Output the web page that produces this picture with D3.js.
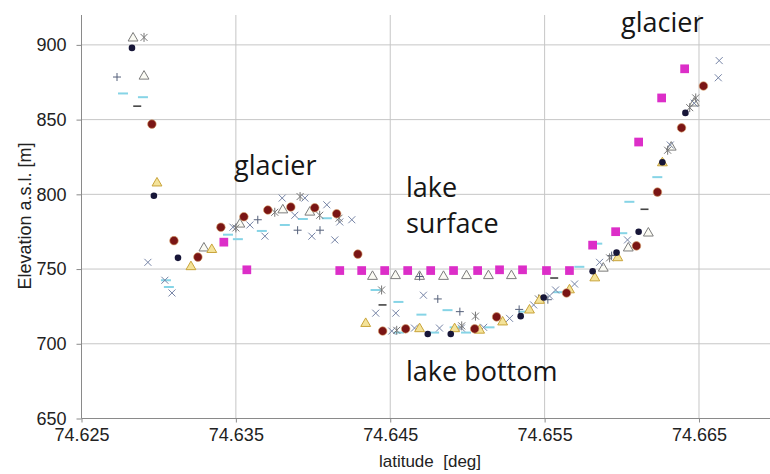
<!DOCTYPE html>
<html>
<head>
<meta charset="utf-8">
<script src="https://cdn.jsdelivr.net/npm/d3@7"></script>
<style>
body { margin: 0; background: #fff; }
svg text { font-family: "Liberation Sans", Arial, sans-serif; fill: #222; }
.note { font-family: "Open Sans", "Noto Sans", sans-serif; font-size: 27px; fill: #161616; }
</style>
</head>
<body>
<div id="chart"></div>
<script>
// tick values
var xTicks = [74.625, 74.635, 74.645, 74.655, 74.665];
var yTicks = [650, 700, 750, 800, 850, 900];

// magenta squares
var squareLat  = [74.63422, 74.63571, 74.64173, 74.64315, 74.64464, 74.64613, 74.64762, 74.64910, 74.65066, 74.65208, 74.65357, 74.65512, 74.65661, 74.65811, 74.65960, 74.66109, 74.66258, 74.66407];
var squareElev = [768, 749.5, 749, 749, 749, 749, 749, 749, 749, 749.5, 749.5, 749, 749, 766, 775, 835, 864.5, 884];

// maroon circles
var redLat  = [74.62956, 74.63099, 74.63254, 74.63403, 74.63552, 74.63707, 74.63856, 74.64011, 74.64153, 74.64290, 74.64451, 74.64600, 74.65047, 74.65189, 74.65642, 74.66095, 74.66231, 74.66387, 74.66529];
var redElev = [847, 769, 758, 778, 785, 789.5, 791.5, 791, 787, 760, 708.5, 710, 710, 718, 734, 765.5, 801.5, 844.5, 872.5];

// dark navy circles
var navyLat  = [74.62827, 74.62969, 74.63125, 74.64743, 74.64892, 74.65345, 74.65494, 74.65811, 74.65966, 74.66109, 74.66263, 74.66412];
var navyElev = [898, 799, 757.5, 706.5, 706.5, 718.5, 731, 748.5, 761, 775, 821.5, 854.5];

// open grey triangles
var triLat  = [74.62834, 74.62905, 74.63293, 74.63526, 74.63804, 74.63979, 74.64385, 74.64534, 74.64690, 74.64845, 74.64994, 74.65136, 74.65285, 74.65880, 74.66042, 74.66172, 74.66320, 74.66469];
var triElev = [904.5, 879, 764, 780, 789.5, 788, 745, 745.5, 745, 745, 745.5, 745.5, 745.5, 750.5, 764, 774, 831.5, 861];

// yellow triangles
var yelLat  = [74.62989, 74.63209, 74.63344, 74.64341, 74.64690, 74.64917, 74.65079, 74.65228, 74.65402, 74.65467, 74.65661, 74.65825, 74.65974, 74.66263];
var yelElev = [807.5, 751.5, 763, 713.5, 710, 710, 709, 714.5, 722.5, 729, 736, 744, 757.5, 821];

// light blue dashes
var dashLat  = [74.62769, 74.62898, 74.63047, 74.63066, 74.63449, 74.63513, 74.63668, 74.63817, 74.63934, 74.64089, 74.64405, 74.64553, 74.64557, 74.64702, 74.64784, 74.64871, 74.64917, 74.64991, 74.65143, 74.65362, 74.65589, 74.65725, 74.65841, 74.66003, 74.66049, 74.66230];
var dashElev = [867.5, 865, 742.5, 738, 773, 770, 775.5, 779.5, 783.5, 784, 736, 728, 707.5, 719.5, 707.5, 722.5, 711, 707.5, 711, 721.5, 734.5, 751.5, 767, 774, 795, 811.5];

// dark dashes
var ddashLat  = [74.62861, 74.64450, 74.65562, 74.66147];
var ddashElev = [859, 726, 744, 790];

// crosses
var xLat  = [74.62930, 74.63040, 74.63086, 74.63481, 74.63591, 74.63688, 74.63800, 74.63882, 74.63947, 74.63992, 74.64089, 74.64141, 74.64173, 74.64251, 74.64406, 74.64536, 74.64510, 74.64715, 74.64657, 74.64819, 74.64961, 74.65105, 74.65273, 74.65429, 74.65532, 74.65571, 74.65694, 74.65856, 74.66037, 74.66314, 74.66469, 74.66631, 74.66625];
var xElev = [754.5, 742.5, 734, 778, 779.5, 772, 797.5, 786, 797.5, 772, 793, 769.5, 781.5, 783, 720.5, 720.5, 708.5, 732.5, 710.5, 710.5, 710.5, 711, 717, 726, 732, 736, 740, 754.5, 769.5, 833, 861, 889.5, 878];

// plus signs
var plusLat  = [74.62730, 74.63642, 74.63900, 74.64045, 74.64690, 74.64808, 74.64951, 74.65335, 74.65521, 74.65934];
var plusElev = [878.5, 783, 776, 776, 745, 730, 721.5, 723, 729.5, 759];

// asterisks
var starLat  = [74.62905, 74.63500, 74.63752, 74.63916, 74.64043, 74.64168, 74.64444, 74.64542, 74.64963, 74.65052, 74.65460, 74.65921, 74.66297, 74.66440, 74.66479];
var starElev = [905, 777.5, 788, 798.5, 786, 784, 736, 709, 712, 718.5, 730, 757.5, 829.5, 858, 864.5];

var width = 770, height = 474;
var svg = d3.select("#chart").append("svg")
    .attr("width", width)
    .attr("height", height);

var x = d3.scaleLinear().domain([74.625, 74.6696]).range([81.5, 770]);
var y = d3.scaleLinear().domain([650, 920]).range([418.5, 15]);

// grid
svg.append("g").selectAll("line")
    .data(yTicks.slice(1))
    .enter().append("line")
    .attr("x1", x(74.625)).attr("x2", width)
    .attr("y1", function(d) { return y(d); })
    .attr("y2", function(d) { return y(d); })
    .style("stroke", "#c6c6c6");

svg.append("g").selectAll("line")
    .data(xTicks.slice(1))
    .enter().append("line")
    .attr("y1", y(650)).attr("y2", y(920))
    .attr("x1", function(d) { return x(d); })
    .attr("x2", function(d) { return x(d); })
    .style("stroke", "#c6c6c6");

// axes
var yAxis = svg.append("g")
    .attr("transform", "translate(" + x(74.625) + ",0)")
    .call(d3.axisLeft(y).tickValues(yTicks).tickSize(5).tickPadding(10).tickFormat(d3.format("d")));
yAxis.select(".domain").attr("d", "M0," + y(920) + "V" + y(650)).style("stroke", "#8a8a8a");

var xAxis = svg.append("g")
    .attr("transform", "translate(0," + y(650) + ")")
    .call(d3.axisBottom(x).tickValues(xTicks).tickSize(4).tickPadding(6).tickFormat(d3.format(".3f")));
xAxis.select(".domain").attr("d", "M" + x(74.625) + ",0H" + width).style("stroke", "#8a8a8a");

svg.selectAll(".tick line").style("stroke", "#8a8a8a");
svg.selectAll(".tick text").style("font-size", "18px").style("font-family", "'Liberation Sans', Arial, sans-serif").style("fill", "#222");

svg.append("text")
    .attr("x", 430).attr("y", 467)
    .attr("text-anchor", "middle")
    .attr("xml:space", "preserve")
    .style("font-size", "17px")
    .text("latitude  [deg]");

svg.append("text")
    .attr("transform", "translate(31,216) rotate(-90)")
    .attr("text-anchor", "middle")
    .style("font-size", "18px")
    .text("Elevation a.s.l. [m]");

// marker shapes
function pairs(lat, elev) {
    return lat.map(function(d, i) { return [d, elev[i]]; });
}

function drawPath(data, pathStr, style) {
    var p = svg.append("g").selectAll("path")
        .data(data)
        .enter().append("path")
        .attr("transform", function(d) { return "translate(" + x(d[0]) + "," + y(d[1]) + ")"; })
        .attr("d", pathStr);
    for (var k in style) p.style(k, style[k]);
    return p;
}

var triPath = d3.symbol().type(d3.symbolTriangle).size(42)();
drawPath(pairs(triLat, triElev), triPath, {"fill": "#fbfbf4", "stroke": "#7c7c7c", "stroke-width": 1});
drawPath(pairs(dashLat, dashElev), "M-5,0H5", {"fill": "none", "stroke": "#86d4e6", "stroke-width": 2});
drawPath(pairs(ddashLat, ddashElev), "M-4,0H4", {"fill": "none", "stroke": "#444", "stroke-width": 1.6});
drawPath(pairs(xLat, xElev), "M-3.5,-3.5L3.5,3.5M-3.5,3.5L3.5,-3.5", {"fill": "none", "stroke": "#7684a6", "stroke-width": 1});
drawPath(pairs(plusLat, plusElev), "M-4,0H4M0,-4V4", {"fill": "none", "stroke": "#55607a", "stroke-width": 1});
drawPath(pairs(starLat, starElev), "M-3.5,-3.5L3.5,3.5M-3.5,3.5L3.5,-3.5M0,-4.5V4.5", {"fill": "none", "stroke": "#777", "stroke-width": 1});
drawPath(pairs(yelLat, yelElev), triPath, {"fill": "#f4e39a", "stroke": "#c9a43a", "stroke-width": 1});

var circ = d3.symbol().type(d3.symbolCircle);
drawPath(pairs(navyLat, navyElev), circ.size(34)(), {"fill": "#171638"});
drawPath(pairs(redLat, redElev), circ.size(58)(), {"fill": "#7a1515", "stroke": "#d9a066", "stroke-width": 0.6});
drawPath(pairs(squareLat, squareElev), d3.symbol().type(d3.symbolSquare).size(76)(), {"fill": "#dc2ec8"});

// annotations
svg.append("text").attr("class", "note").attr("x", 234).attr("y", 175).text("glacier");
svg.append("text").attr("class", "note").attr("x", 406).attr("y", 197).text("lake");
svg.append("text").attr("class", "note").attr("x", 406).attr("y", 233).text("surface");
svg.append("text").attr("class", "note").attr("x", 406).attr("y", 381).text("lake bottom");
svg.append("text").attr("class", "note").attr("x", 621).attr("y", 32).text("glacier");
</script>
</body>
</html>
